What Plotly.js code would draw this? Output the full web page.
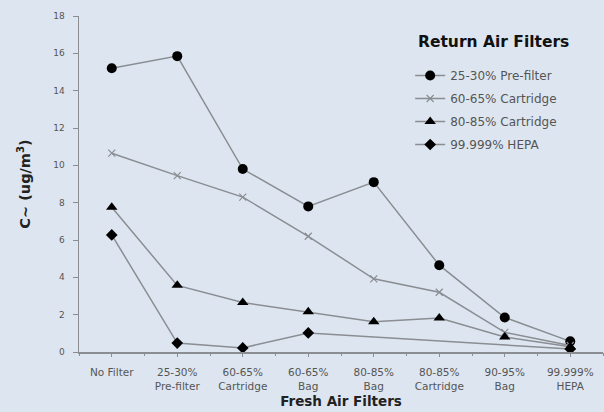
<!DOCTYPE html>
<html>
<head>
<meta charset="utf-8">
<script src="https://cdn.plot.ly/plotly-3.0.1.min.js"></script>
<style>
  html, body { margin: 0; padding: 0; background: #dde6f0; }
  #chart { width: 604px; height: 412px; }
</style>
</head>
<body>
<div id="chart"></div>
<script>
// Fresh air filter types (x categories); line breaks for two-line tick labels
const freshFilters = [
  "No Filter", "25-30%<br>Pre-filter", "60-65%<br>Cartridge", "60-65%<br>Bag",
  "80-85%<br>Bag", "80-85%<br>Cartridge", "90-95%<br>Bag", "99.999%<br>HEPA"
];

// Return air filter series names
const returnFilters = ["25-30% Pre-filter", "60-65% Cartridge", "80-85% Cartridge", "99.999% HEPA"];

// Concentration values (ug/m3) for each return air filter
const preFilter25 = [15.2, 15.85, 9.8, 7.8, 9.1, 4.65, 1.85, 0.57];
const cartridge60 = [10.65, 9.45, 8.3, 6.2, 3.92, 3.2, 1.05, 0.35];
const cartridge80 = [7.75, 3.57, 2.65, 2.15, 1.62, 1.82, 0.8, 0.28];
const hepa99 = [6.27, 0.48, 0.22, 1.02, null, null, null, 0.16];

const yTicks = [0, 2, 4, 6, 8, 10, 12, 14, 16, 18];

const lineColor = "#8a8d92";
const baseFont = { family: "DejaVu Sans, Liberation Sans, sans-serif", color: "#333" };

function series(name, values, marker, group) {
  return {
    type: "scatter",
    mode: "lines+markers",
    name: name,
    legendgroup: group,
    x: freshFilters,
    y: values,
    connectgaps: true,
    line: { color: lineColor, width: 1.5 },
    marker: marker
  };
}

const traces = [
  series(returnFilters[0], preFilter25, { symbol: "circle", size: 10, color: "#000" }, "a"),
  series(returnFilters[1], cartridge60,
    { symbol: "x-thin", size: 7, line: { color: lineColor, width: 1.2 } }, "b"),
  series(returnFilters[2], cartridge80, { symbol: "triangle-up", size: 10, color: "#000" }, "c"),
  series(returnFilters[3], hepa99, { symbol: "diamond", size: 9, color: "#000" }, "d")
];

// Boundary ticks between categories, drawn on an overlaid axis
traces.push({
  type: "scatter", x: freshFilters, y: freshFilters.map(() => null),
  xaxis: "x2", showlegend: false, hoverinfo: "skip", mode: "lines"
});

const layout = {
  width: 604,
  height: 412,
  paper_bgcolor: "#dde6f0",
  plot_bgcolor: "#dde6f0",
  font: Object.assign({ size: 9 }, baseFont),
  margin: { l: 79, r: 1, t: 16, b: 60 },
  showlegend: true,
  legend: {
    x: 0.632, y: 0.866, xanchor: "left", yanchor: "top",
    bgcolor: "rgba(0,0,0,0)",
    traceorder: "grouped",
    tracegroupgap: 4,
    font: Object.assign({}, baseFont, { size: 12, color: "#555" }),
    itemwidth: 30
  },
  // Legend heading
  annotations: [{
    text: "<b>Return Air Filters</b>",
    xref: "paper", yref: "paper", x: 0.644, y: 0.923,
    xanchor: "left", yanchor: "middle", showarrow: false,
    font: Object.assign({}, baseFont, { size: 15.5, color: "#111" })
  }],
  xaxis: {
    type: "category",
    range: [-0.5, 7.5],
    showline: true, linecolor: lineColor, linewidth: 1.5,
    ticks: "outside", ticklen: 3, tickcolor: lineColor,
    ticklabelstandoff: 7,
    showgrid: false, zeroline: false,
    tickfont: Object.assign({}, baseFont, { size: 10.5, color: "#555" }),
    title: { text: "<b>Fresh Air Filters</b>", standoff: 6,
             font: Object.assign({}, baseFont, { size: 13.5, color: "#222" }) }
  },
  xaxis2: {
    type: "category", overlaying: "x", matches: "x",
    tickson: "boundaries", ticks: "outside", ticklen: 3, tickcolor: lineColor,
    showticklabels: false, showgrid: false, showline: false, zeroline: false
  },
  yaxis: {
    range: [0, 18],
    tickvals: yTicks,
    showline: true, linecolor: lineColor, linewidth: 1.5,
    ticks: "outside", ticklen: 5, tickcolor: lineColor,
    ticklabelstandoff: 6,
    showgrid: false, zeroline: false,
    tickfont: Object.assign({}, baseFont, { size: 9, color: "#555" }),
    title: { text: "<b>C~ (ug/m<sup>3</sup>)</b>", standoff: 19,
             font: Object.assign({}, baseFont, { size: 14.5, color: "#222" }) }
  }
};

Plotly.newPlot("chart", traces, layout, { displayModeBar: false, staticPlot: true });
</script>
</body>
</html>
